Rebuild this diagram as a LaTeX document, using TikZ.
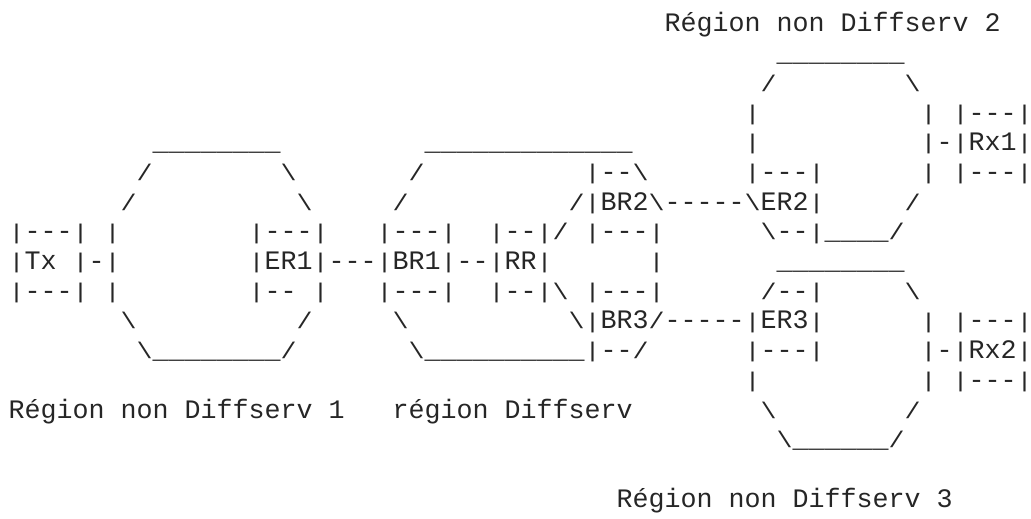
\documentclass[tikz,border=0pt]{standalone}
\usepackage{graphicx}
\usepackage{fontspec}
\setmonofont{Liberation Mono}
\ExplSyntaxOn
\cs_new:Npn \myrep #1#2 { \prg_replicate:nn {#1} {#2} }
\ExplSyntaxOff
\newlength\cw \setlength\cw{16pt}
\newcommand\g[1]{\hspace*{#1\cw}}
\newcommand\U[1]{\myrep{#1}{\_}}
\newcommand\VB{\raisebox{0.8pt}{\scalebox{1}[0.8]{|}}}
\newcommand\FS{\scalebox{1}[0.85]{/}}
\newcommand\BS{\scalebox{1}[0.85]{\textbackslash}}
\begin{document}
\begin{tikzpicture}[x=1pt,y=1pt,
  asciiline/.style={anchor=base west,inner sep=0pt,outer sep=0pt,
    font=\ttfamily\fontsize{26.663pt}{29.7pt}\selectfont,text=black!85}]
\useasboundingbox (0,0) rectangle (1031,519);
\node[asciiline] (l0)  at (8.7,487.0) {\g{41}Région non Diffserv 2};
\node[asciiline] (l1)  at (8.7,457.3) {\g{48}\U{8}};
\node[asciiline] (l2)  at (8.7,427.6) {\g{47}\FS\g{8}\BS};
\node[asciiline] (l3)  at (8.7,397.9) {\g{46}\VB\g{10}\VB\g{1}\VB---\VB};
\node[asciiline] (l4)  at (8.7,368.2) {\g{9}\U{8}\g{9}\U{13}\g{7}\VB\g{10}\VB-\VB Rx1\VB};
\node[asciiline] (l5)  at (8.7,338.5) {\g{8}\FS\g{8}\BS\g{7}\FS\g{10}\VB--\BS\g{6}\VB---\VB\g{6}\VB\g{1}\VB---\VB};
\node[asciiline] (l6)  at (8.7,308.8) {\g{7}\FS\g{10}\BS\g{5}\FS\g{10}\FS\VB BR2\BS-----\BS ER2\VB\g{5}\FS};
\node[asciiline] (l7)  at (8.7,279.1) {\VB---\VB\g{1}\VB\g{8}\VB---\VB\g{3}\VB---\VB\g{2}\VB--\VB\FS\g{1}\VB---\VB\g{6}\BS--\VB\U{4}\FS};
\node[asciiline] (l8)  at (8.7,249.4) {\VB Tx\g{1}\VB-\VB\g{8}\VB ER1\VB---\VB BR1\VB--\VB RR\VB\g{6}\VB\g{7}\U{8}};
\node[asciiline] (l9)  at (8.7,219.7) {\VB---\VB\g{1}\VB\g{8}\VB--\g{1}\VB\g{3}\VB---\VB\g{2}\VB--\VB\BS\g{1}\VB---\VB\g{6}\FS--\VB\g{5}\BS};
\node[asciiline] (l10) at (8.7,190.0) {\g{7}\BS\g{10}\FS\g{5}\BS\g{10}\BS\VB BR3\FS-----\VB ER3\VB\g{6}\VB\g{1}\VB---\VB};
\node[asciiline] (l11) at (8.7,160.3) {\g{8}\BS\U{8}\FS\g{7}\BS\U{10}\VB--\FS\g{6}\VB---\VB\g{6}\VB-\VB Rx2\VB};
\node[asciiline] (l12) at (8.7,130.6) {\g{46}\VB\g{10}\VB\g{1}\VB---\VB};
\node[asciiline] (l13) at (8.7,100.9) {Région non Diffserv 1\g{3}région Diffserv\g{8}\BS\g{8}\FS};
\node[asciiline] (l14) at (8.7,71.2)  {\g{48}\BS\U{6}\FS};
\node[asciiline] (l16) at (8.7,11.8)  {\g{38}Région non Diffserv 3};
\end{tikzpicture}
\end{document}
